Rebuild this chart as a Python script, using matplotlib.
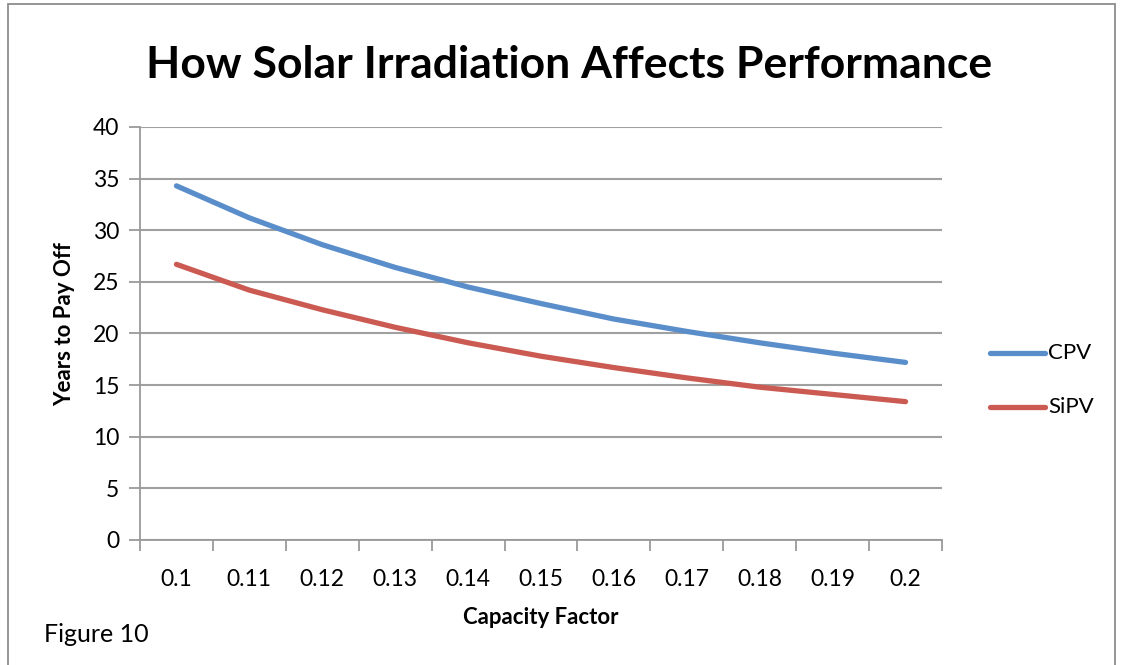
import matplotlib
matplotlib.use("Agg")
import matplotlib.pyplot as plt
from matplotlib.patches import Rectangle
from matplotlib.lines import Line2D

categories = ["0.1", "0.11", "0.12", "0.13", "0.14", "0.15", "0.16", "0.17", "0.18", "0.19", "0.2"]
cpv = [34.3, 31.2, 28.6, 26.4, 24.5, 22.9, 21.4, 20.2, 19.1, 18.1, 17.2]
sipv = [26.7, 24.2, 22.3, 20.6, 19.1, 17.8, 16.7, 15.7, 14.8, 14.1, 13.4]
series_names = ["CPV", "SiPV"]
yticks = [0, 5, 10, 15, 20, 25, 30, 35, 40]

FONT = "Lato"
BLUE = "#5A8ECB"
RED = "#CB5B52"
W, H = 1123, 665
fig = plt.figure(figsize=(W / 100, H / 100), dpi=100)
ax = fig.add_axes([140 / W, 1 - 540 / H, (942 - 140) / W, (540 - 127) / H])

x = list(range(len(categories)))
ax.plot(x, cpv, color=BLUE, lw=3.8, solid_capstyle="round", solid_joinstyle="round", zorder=3)
ax.plot(x, sipv, color=RED, lw=3.8, solid_capstyle="round", solid_joinstyle="round", zorder=3)

ax.set_xlim(-0.5, len(categories) - 0.5)
ax.set_ylim(0, 40)
ax.set_yticks(yticks)
ax.set_yticklabels([str(v) for v in yticks], fontfamily=FONT, fontsize=16.5)
ax.set_xticks(x)
ax.set_xticklabels(categories, fontfamily=FONT, fontsize=16.5)
ax.set_xticks([i - 0.5 for i in range(len(categories) + 1)], minor=True)
ax.tick_params(axis="x", which="major", length=0, pad=21)
ax.tick_params(axis="x", which="minor", length=8, color="#9a9a9a", width=1.3)
ax.tick_params(axis="y", length=8, color="#9a9a9a", width=1.3, pad=7)
ax.grid(axis="y", color="#a0a0a0", lw=1.5, zorder=0)
for s in ["top", "right"]:
    ax.spines[s].set_visible(False)
for s in ["left", "bottom"]:
    ax.spines[s].set_color("#9a9a9a")
    ax.spines[s].set_linewidth(1.3)

fig.text(541 / W, 1 - 617 / H, "Capacity Factor", ha="center", va="center",
         fontfamily=FONT, fontsize=16, fontweight="bold")
fig.text(65 / W, 1 - 324 / H, "Years to Pay Off", ha="center", va="center", rotation=90,
         fontfamily=FONT, fontsize=16, fontweight="bold")

fig.text(569 / W, 1 - 65 / H, "How Solar Irradiation Affects Performance", ha="center", va="center",
         fontfamily=FONT, fontsize=32, fontweight="bold")
fig.text(44 / W, 1 - 635 / H, "Figure 10", ha="left", va="center", fontfamily=FONT, fontsize=18)

# legend (drawn in figure coordinates)
for name, col, yy in zip(series_names, [BLUE, RED], [353, 407]):
    fig.add_artist(Line2D([990 / W, 1045 / W], [1 - yy / H, 1 - yy / H], color=col, lw=3.8,
                          solid_capstyle="round", transform=fig.transFigure))
    fig.text(1048 / W, 1 - yy / H, name, ha="left", va="center", fontfamily=FONT, fontsize=16)

# figure border
fig.patches.append(Rectangle((8 / W, -0.1), (1115 - 8) / W, 1 - 4 / H + 0.1, transform=fig.transFigure,
                             fill=False, edgecolor="#8c8c8c", lw=1.3))

fig.savefig("out.png", dpi=100)
